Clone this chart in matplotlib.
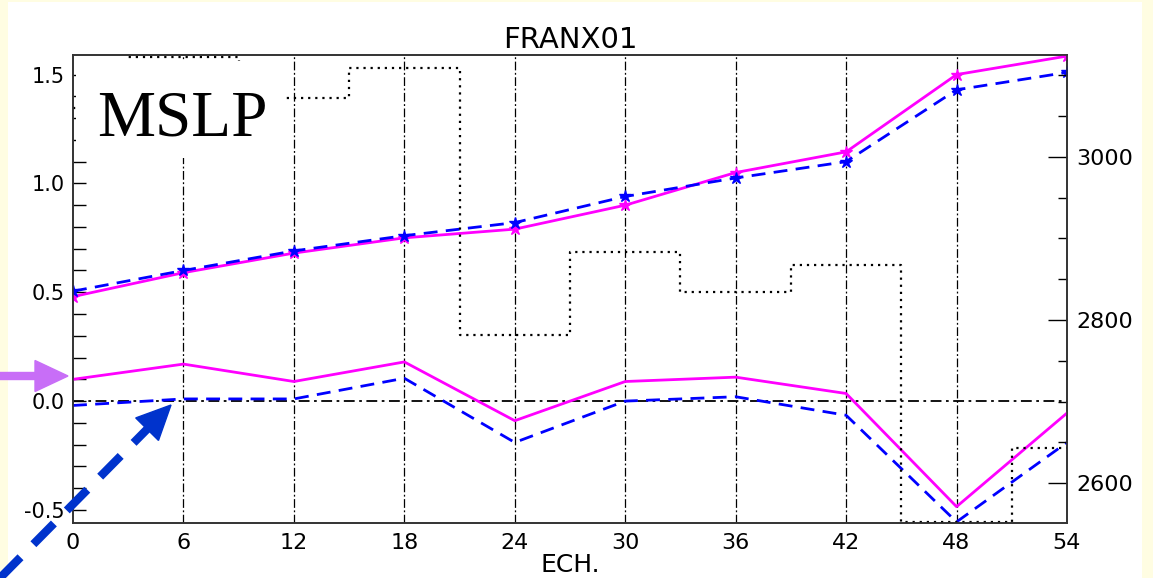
import matplotlib.pyplot as plt
import numpy as np
from matplotlib.patches import Rectangle, FancyArrow
from matplotlib.lines import Line2D
from matplotlib.transforms import IdentityTransform

# forecast steps (hours)
ech = [0, 6, 12, 18, 24, 30, 36, 42, 48, 54]
# rms error (left axis)
rms_mag = [0.48, 0.59, 0.68, 0.75, 0.79, 0.90, 1.05, 1.145, 1.50, 1.585]
rms_blue = [0.505, 0.60, 0.69, 0.76, 0.82, 0.94, 1.025, 1.10, 1.43, 1.51]
# bias (left axis)
bias_mag = [0.10, 0.17, 0.09, 0.18, -0.09, 0.09, 0.11, 0.035, -0.485, -0.055]
bias_blue = [-0.02, 0.01, 0.01, 0.105, -0.19, 0.0, 0.02, -0.065, -0.555, -0.19]
# number of obs (right axis)
nobs = [3060, 3122, 3072, 3109, 2782, 2883, 2834, 2867, 2552, 2643]

W, H = 1153, 578
fig = plt.figure(figsize=(W / 100, H / 100), dpi=100, facecolor='#FFFDE2')
fig.add_artist(Rectangle((8 / W, 0), (1142 - 8) / W, (H - 2) / H,
                         transform=fig.transFigure, facecolor='white',
                         edgecolor='none', zorder=-10))

ax = fig.add_axes([73 / W, 1 - 523 / H, (1067 - 73) / W, (523 - 55) / H])
ax.set_facecolor('white')
ax2 = ax.twinx()

sans = 'DejaVu Sans'

# grid + zero line
for t in ech[1:-1]:
    ax.axvline(t, color='black', lw=0.9, ls=(0, (7, 2, 1.5, 2)), zorder=1)
ax.axhline(0, color='black', lw=1.3, ls=(0, (6, 2.5, 1.5, 2.5)), zorder=1)

ax.plot(ech, rms_mag, color='#FF00FF', lw=2, marker='*', ms=9, zorder=3)
ax.plot(ech, rms_blue, color='#0000FF', lw=2, ls=(0, (5, 3)), marker='*', ms=9, zorder=3)
ax.plot(ech, bias_mag, color='#FF00FF', lw=2, zorder=3)
ax.plot(ech, bias_blue, color='#0000FF', lw=2, ls=(0, (5, 3)), zorder=3)

ax2.step(ech, nobs, where='mid', color='black', lw=1.6, ls=(0, (1, 2.2)), zorder=1)

ax.set_xlim(0, 54)
ax.set_ylim(-0.56, 1.59)
ax2.set_ylim(2551, 3125)

ax.set_xticks(ech)
ax.set_yticks([-0.5, 0.0, 0.5, 1.0, 1.5])
ax.set_yticklabels(['-0.5', '0.0', '0.5', '1.0', '1.5'])
ax.set_yticks(np.arange(-0.5, 1.55, 0.1), minor=True)
ax2.set_yticks([2600, 2800, 3000])
ax2.set_yticks(np.arange(2600, 3101, 50), minor=True)

ax.tick_params(axis='x', length=0, pad=7, labelsize=16, labelfontfamily=sans)
ax.tick_params(axis='y', which='both', direction='in', length=9, width=1,
               pad=6, labelsize=15, labelfontfamily=sans)
ax2.tick_params(axis='y', which='major', direction='in', length=14, width=1,
                pad=7, labelsize=16, labelfontfamily=sans)
ax2.tick_params(axis='y', which='minor', direction='in', length=6.5, width=1)

for a in (ax, ax2):
    for s in a.spines.values():
        s.set_linewidth(1.2)
        s.set_color('#333333')

ax.set_title('FRANX01', fontsize=21, family=sans, pad=5)
ax.set_xlabel('ECH.', fontsize=18, family=sans, labelpad=0)

# white label box with MSLP
ax2.add_patch(Rectangle((3 / 994, (523 - 158) / 468), (283 - 76) / 994, (158 - 61) / 468,
                        transform=ax2.transAxes, facecolor='white',
                        edgecolor='none', zorder=2.4))
ax2.text(24 / 994, (523 - 135) / 468, 'MSLP', transform=ax2.transAxes,
         family='Liberation Serif', fontsize=47, va='baseline', ha='left', zorder=2.45)

# arrows (figure pixels, origin bottom-left)
idt = IdentityTransform()
fig.add_artist(FancyArrow(0, H - 376, 68, 0, width=7, head_width=31, head_length=33,
                          length_includes_head=True, color='#C86EF7',
                          transform=idt, zorder=5))
tip = np.array([171.0, H - 405.0])
tail = np.array([0.0, 0.0])
d = (tip - tail) / np.hypot(*(tip - tail))
shaft_end = tip - d * 28
fig.add_artist(Line2D([tail[0], shaft_end[0]], [tail[1], shaft_end[1]],
                      color='#0033CC', lw=6, ls=(0, (3.5, 2.2)),
                      solid_capstyle='butt', dash_capstyle='butt',
                      transform=idt, zorder=5))
fig.add_artist(FancyArrow(tip[0] - d[0] * 34, tip[1] - d[1] * 34, d[0] * 34, d[1] * 34,
                          width=0.5, head_width=32, head_length=34,
                          length_includes_head=True, color='#0033CC',
                          transform=idt, zorder=5))

fig.savefig('out.png', dpi=100, facecolor=fig.get_facecolor())
